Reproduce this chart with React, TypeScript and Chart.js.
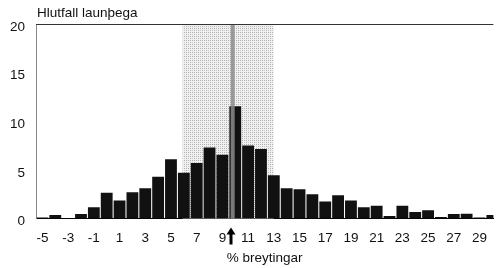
import React, { useEffect, useRef } from "react";
import { Chart, registerables } from "chart.js";

Chart.register(...registerables);

const categories = [-5, -4, -3, -2, -1, 0, 1, 2, 3, 4, 5, 6, 7, 8, 9, 10, 11, 12, 13, 14, 15, 16, 17, 18, 19, 20, 21, 22, 23, 24, 25, 26, 27, 28, 29, 30];
const shares = [0.1, 0.35, 0.05, 0.45, 1.15, 2.65, 1.85, 2.7, 3.1, 4.3, 6.1, 4.7, 5.7, 7.3, 6.55, 11.55, 7.5, 7.15, 4.45, 3.1, 3.0, 2.5, 1.75, 2.4, 1.85, 1.15, 1.3, 0.25, 1.3, 0.67, 0.85, 0.15, 0.45, 0.5, 0.1, 0.35];
const xTickLabels = [-5, -3, -1, 1, 3, 5, 7, 9, 11, 13, 15, 17, 19, 21, 23, 25, 27, 29];
const yTickLabels = [0, 5, 10, 15, 20];
const shadeRange = [5.9, 13.0];
const markerValue = 9.8;
const arrowValue = 9.7;
const yTitle = "Hlutfall launþega";
const xTitle = "% breytingar";

const FONT = "'Liberation Sans', Arial, sans-serif";

function makePattern(ctx: CanvasRenderingContext2D) {
  const c = document.createElement("canvas");
  c.width = 4;
  c.height = 4;
  const p = c.getContext("2d")!;
  p.fillStyle = "#f0f0f0";
  p.fillRect(0, 0, 4, 4);
  p.fillStyle = "#b0b0b0";
  p.fillRect(0, 0, 1, 1);
  p.fillRect(2, 2, 1, 1);
  p.fillRect(2, 0, 1, 1);
  p.fillStyle = "#cccccc";
  p.fillRect(0, 2, 1, 1);
  return ctx.createPattern(c, "repeat");
}

const decorPlugin = {
  id: "decor",
  beforeDatasetsDraw(chart: any) {
    const { ctx, chartArea, scales } = chart;
    const x = scales.x;
    const x1 = x.getPixelForValue(shadeRange[0]);
    const x2 = x.getPixelForValue(shadeRange[1]);
    ctx.save();
    const pat = makePattern(ctx);
    ctx.fillStyle = pat || "#dddddd";
    ctx.fillRect(x1, chartArea.top, x2 - x1, chartArea.bottom - chartArea.top);
    ctx.restore();
  },
  afterDatasetsDraw(chart: any) {
    const { ctx, chartArea, scales } = chart;
    const x = scales.x;
    const xm = x.getPixelForValue(markerValue);
    ctx.save();
    ctx.fillStyle = "rgba(140,140,140,0.85)";
    ctx.fillRect(xm - 2, chartArea.top, 4, chartArea.bottom - chartArea.top);
    // top border line
    ctx.strokeStyle = "#333";
    ctx.lineWidth = 1;
    ctx.beginPath();
    ctx.moveTo(chartArea.left, chartArea.top + 0.5);
    ctx.lineTo(chartArea.right, chartArea.top + 0.5);
    ctx.stroke();
    // arrow
    const xa = Math.round(x.getPixelForValue(arrowValue));
    const yb = chartArea.bottom;
    ctx.fillStyle = "#000";
    ctx.fillRect(xa - 1.5, yb + 14, 3, 12);
    ctx.beginPath();
    ctx.moveTo(xa - 4.5, yb + 16);
    ctx.lineTo(xa, yb + 9);
    ctx.lineTo(xa + 4.5, yb + 16);
    ctx.closePath();
    ctx.fill();
    // title
    ctx.fillStyle = "#111";
    ctx.font = `13.5px ${FONT}`;
    ctx.textAlign = "left";
    ctx.textBaseline = "middle";
    ctx.fillText(yTitle, 37, 13);
    ctx.restore();
  },
};

export default function App() {
  const ref = useRef<HTMLCanvasElement>(null);
  useEffect(() => {
    document.body.style.margin = "0";
    document.body.style.overflow = "hidden";
    const chart = new Chart(ref.current!, {
      type: "bar",
      data: {
        datasets: [
          {
            data: categories.map((c, i) => ({ x: c, y: shares[i] })),
            backgroundColor: "#111111",
            borderWidth: 0,
            barPercentage: 0.92,
            categoryPercentage: 1,
          },
        ],
      },
      options: {
        animation: false,
        responsive: false,
        maintainAspectRatio: false,
        layout: { padding: { top: 24, right: 0, left: 0, bottom: 0 } },
        plugins: { legend: { display: false }, tooltip: { enabled: false }, title: { display: false } },
        scales: {
          x: {
            type: "linear",
            offset: false,
            min: -5.5,
            max: 30.08,
            grid: { display: false, drawTicks: false, offset: false },
            border: { display: true, color: "#000", width: 1 },
            afterBuildTicks(scale: any) {
              scale.ticks = xTickLabels.map((v) => ({ value: v }));
            },
            afterFit(scale: any) {
              scale.height = 49.5;
            },
            ticks: {
              autoSkip: false,
              maxRotation: 0,
              padding: 12,
              color: "#111",
              font: { family: FONT, size: 13.5 },
              callback: (v: any) => String(v),
            },
            title: {
              display: true,
              text: xTitle,
              color: "#111",
              font: { family: FONT, size: 13.5 },
              padding: { top: 0, bottom: 2 },
            },
          },
          y: {
            min: 0,
            max: 20,
            grid: { display: false, drawTicks: false },
            border: { display: true, color: "#888", width: 1 },
            afterBuildTicks(scale: any) {
              scale.ticks = yTickLabels.map((v) => ({ value: v }));
            },
            afterFit(scale: any) {
              scale.width = 36;
            },
            ticks: {
              padding: 11,
              labelOffset: 3,
              color: "#111",
              font: { family: FONT, size: 13.5 },
            },
          },
        },
      },
      plugins: [decorPlugin],
    } as any);
    return () => chart.destroy();
  }, []);
  return <canvas ref={ref} width={499} height={268} style={{ display: "block" }} />;
}
